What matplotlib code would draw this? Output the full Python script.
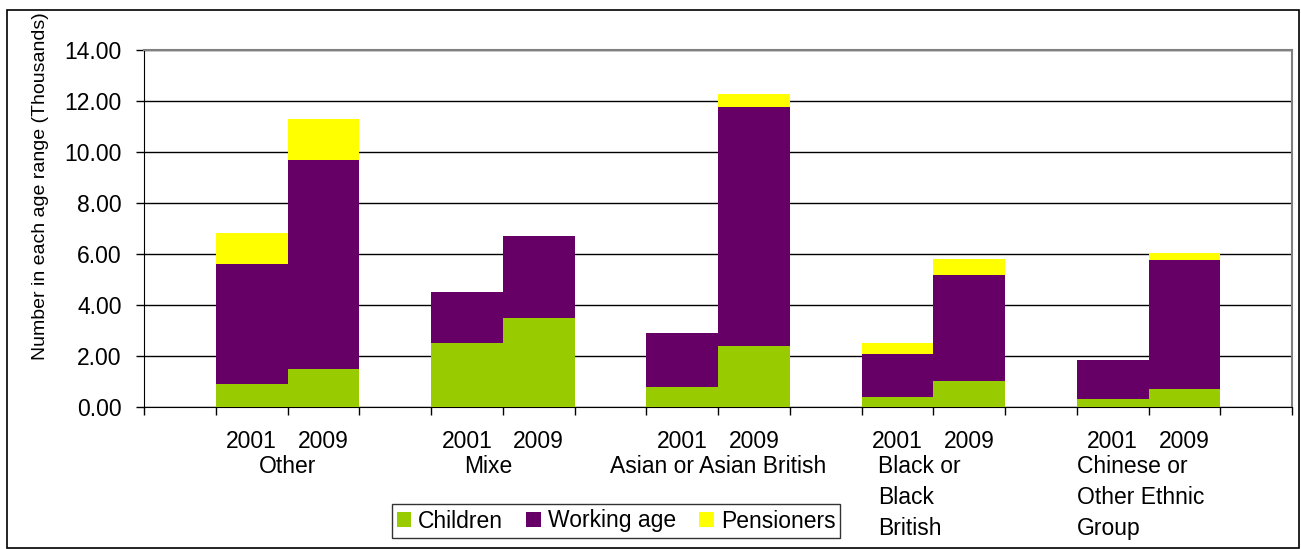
import matplotlib.pyplot as plt
import numpy as np
from matplotlib.patches import Rectangle
from matplotlib.transforms import blended_transform_factory

plt.rcParams['font.family'] = ['Liberation Sans', 'DejaVu Sans']

# data (thousands)
groups = ["Other", "Mixe", "Asian or Asian British", "Black or\nBlack\nBritish",
          "Chinese or\nOther Ethnic\nGroup"]
years = ["2001", "2009"]
children = [0.9, 1.5, 2.5, 3.5, 0.78, 2.4, 0.4, 1.03, 0.33, 0.72]
working = [4.7, 8.2, 2.0, 3.2, 2.12, 9.38, 1.69, 4.16, 1.52, 5.06]
pensioners = [1.22, 1.6, 0, 0, 0, 0.51, 0.42, 0.61, 0, 0.25]

# bar slots: empty slot before each pair and one at the end
pos = []
for g in range(len(groups)):
    pos += [3 * g + 1, 3 * g + 2]
pos = np.array(pos)
children = np.array(children)
working = np.array(working)
pensioners = np.array(pensioners)

fig = plt.figure(figsize=(13.01, 5.49), dpi=100)
ax = fig.add_axes([144 / 1301, 1 - 407 / 549, (1292 - 144) / 1301, (407 - 50) / 549])

b1 = ax.bar(pos, children, width=1.0, color='#99CC00', label='Children', zorder=3)
b2 = ax.bar(pos, working, width=1.0, bottom=children, color='#660066',
            label='Working age', zorder=3)
b3 = ax.bar(pos, pensioners, width=1.0, bottom=children + working, color='#FFFF00',
            label='Pensioners', zorder=3)

ax.set_xlim(-0.5, 15.5)
ax.set_ylim(0, 14)
ax.set_yticks(np.arange(0, 14.01, 2))
ax.set_yticklabels(['%.2f' % v for v in np.arange(0, 14.01, 2)], fontsize=16.5)
ax.yaxis.grid(True, color='black', linewidth=1.0, zorder=0)
ax.set_axisbelow(True)

ax.set_xticks(np.arange(-0.5, 15.6, 1))
ax.set_xticklabels([])
ax.tick_params(axis='x', direction='out', length=6, width=1, color='black')
ax.tick_params(axis='y', direction='out', length=6, width=1, color='black', pad=10)

ax.spines['top'].set_color('#808080')
ax.spines['right'].set_color('#808080')
ax.spines['top'].set_linewidth(1.5)
ax.spines['right'].set_linewidth(1.5)
ax.spines['left'].set_color('black')
ax.spines['bottom'].set_color('black')

# category labels
trans = blended_transform_factory(ax.transData, fig.transFigure)
for i, p in enumerate(pos):
    ax.text(p, 1 - 442 / 549, years[i % 2], transform=trans, ha='center', va='center',
            fontsize=16.5)
for g, name in enumerate(groups):
    if '\n' in name:
        x0 = 3 * g + 0.5
        if g == 3:
            x0 += 17 / 71.75
        ax.text(x0, 1 - 455 / 549, name, transform=trans, ha='left', va='top',
                fontsize=16.5, linespacing=1.45)
    else:
        x0 = 3 * g + 1.5
        if g == 1:
            x0 -= 15 / 71.75
        ax.text(x0, 1 - 455 / 549, name, transform=trans, ha='center',
                va='top', fontsize=16.5)

fig.text(41 / 1301, 1 - 186 / 549, 'Number in each age range (Thousands)',
         rotation=90, ha='center', va='center', fontsize=14)

leg = fig.legend(handles=[b1, b2, b3], loc='center',
                 bbox_to_anchor=(616 / 1301, 1 - 521 / 549), ncol=3, fontsize=16.5,
                 frameon=True, fancybox=False, edgecolor='black', handlelength=0.65,
                 handleheight=0.65, handletextpad=0.3, columnspacing=1.0,
                 borderpad=0.22, borderaxespad=0)
leg.get_frame().set_linewidth(1.0)

fig.patches.append(Rectangle((7 / 1301, 1 / 549), 1292 / 1301, 538 / 549,
                             transform=fig.transFigure, fill=False,
                             edgecolor='black', linewidth=1.2))

fig.savefig('out.png', dpi=100)
